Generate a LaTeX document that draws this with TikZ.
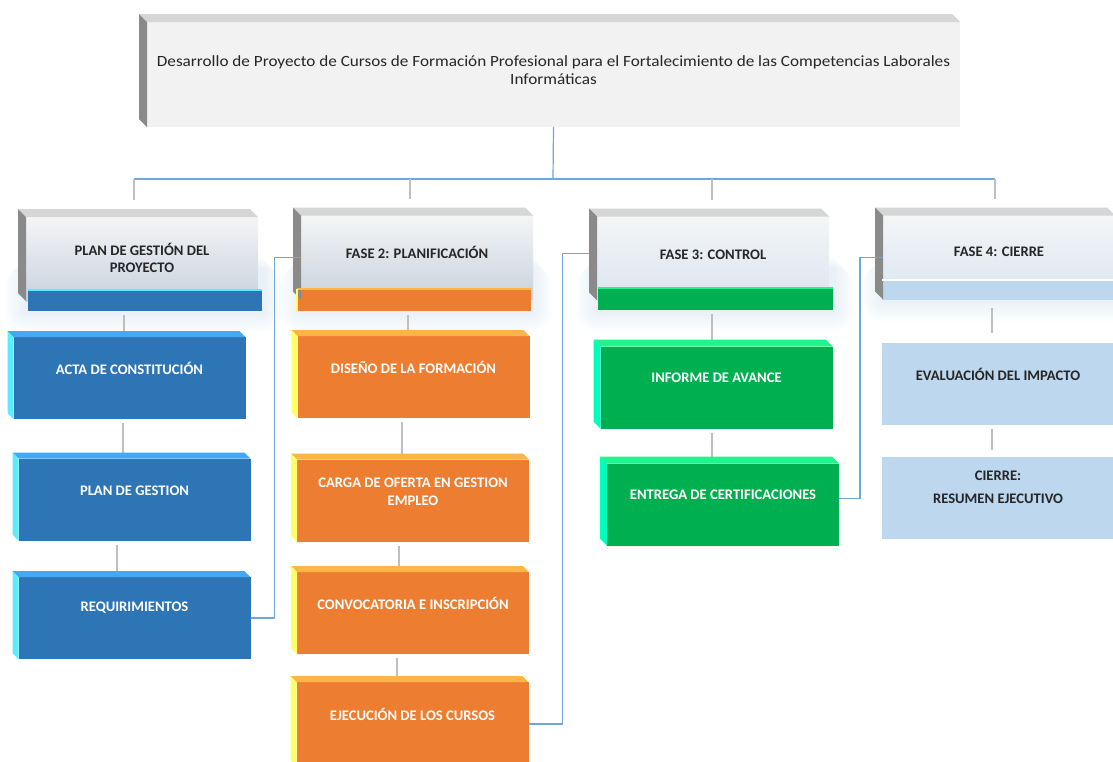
\documentclass[tikz,border=0pt]{standalone}
\usepackage{fontspec}
\setmainfont{Carlito}
\newfontfamily\titlefont{Carlito}[FakeStretch=1.1]
\usetikzlibrary{backgrounds}
\definecolor{azul}{HTML}{2E75B6}
\definecolor{azultope}{HTML}{45A8F5}
\definecolor{azullado}{HTML}{5CECFF}
\definecolor{naranja}{HTML}{ED7D31}
\definecolor{naranjatope}{HTML}{FDB547}
\definecolor{naranjalado}{HTML}{FFFF66}
\definecolor{verde}{HTML}{00B050}
\definecolor{verdetope}{HTML}{1FF58A}
\definecolor{verdelado}{HTML}{00FFB8}
\definecolor{celeste}{HTML}{BDD7EE}
\definecolor{grisclaro}{HTML}{F2F2F2}
\definecolor{gristope}{HTML}{D6D6D6}
\definecolor{grislado}{HTML}{8A8A8A}
\definecolor{fasebase}{HTML}{C8D2DE}
\definecolor{fasebase2}{HTML}{DAE5F1}
\definecolor{enlace}{HTML}{6FA6DC}
\definecolor{tallo}{HTML}{BFBFBF}
\definecolor{tinta}{HTML}{262626}
\definecolor{halo}{HTML}{9DC3E6}
\tikzset{
  hoja/.style={fill=#1,inner sep=0pt,outer sep=0pt,minimum width=232,minimum height=82},
  hoja/.default=azul,
  fase/.style={inner sep=0pt,outer sep=0pt,minimum width=232,minimum height=84,
    top color=white!96!black,bottom color=#1},
  fase/.default=fasebase,
  barra/.style={fill=#1,inner sep=0pt,outer sep=0pt,minimum width=234,minimum height=21},
  lbl/.style={font=\bfseries\fontsize{14.6}{17.5}\selectfont,text=white,align=center,yshift=#1},
  lbl/.default=10pt,
  stem/.style={draw=tallo,line width=1.2pt,shorten <=4pt,shorten >=6pt},
  link/.style={draw=enlace,line width=1.4pt},
}

\begin{document}
\begin{tikzpicture}[x=1pt,y=-1pt]
  \useasboundingbox (0,0) rectangle (1113,761);
  \clip (0,0) rectangle (1113,761);
  % title and phases
  \node[hoja=grisclaro,minimum width=813,minimum height=105,
    label={[lbl=4.5pt,font=\titlefont\fontsize{15.6}{18}\selectfont,text=tinta]center:{Desarrollo de Proyecto de Cursos de Formación Profesional para el Fortalecimiento de las Competencias Laborales\\Informáticas}}]
    (titulo) at (553.5,74.5) {};
  \node[fase,label={[lbl=1pt,text=tinta]center:{PLAN DE GESTIÓN DEL\\PROYECTO}}] (p1) at (142,259) {};
  \node[fase,label={[lbl=5.5pt,text=tinta]center:{FASE 2: PLANIFICACIÓN}}] (p2) at (417,257.5) {};
  \node[fase=fasebase2,label={[lbl=3.5pt,text=tinta]center:{FASE 3: CONTROL}}] (p3) at (713,258.5) {};
  \node[fase=fasebase2,label={[lbl=5.5pt,text=tinta]center:{FASE 4: CIERRE}}] (p4) at (999,257.5) {};
  \node[barra=azul] (b1) at (145,300.5) {};
  \node[barra=naranja,minimum height=22] (b2) at (414,300) {};
  \node[barra=verde,minimum width=235,minimum height=22] (b3) at (715.5,299) {};
  \node[barra=celeste,minimum height=20] (b4) at (999,290) {};
  % tasks
  \node[hoja,label={[lbl]center:{ACTA DE CONSTITUCIÓN}}] (acta) at (129.5,378) {};
  \node[hoja,label={[lbl=8.5pt]center:{PLAN DE GESTION}}] (plan) at (134.5,499.5) {};
  \node[hoja,label={[lbl]center:{REQUIRIMIENTOS}}] (req) at (134.5,618) {};
  \node[hoja=naranja,label={[lbl]center:{DISEÑO DE LA FORMACIÓN}}] (diseno) at (413.5,377) {};
  \node[hoja=naranja,label={[lbl=8.5pt]center:{CARGA DE OFERTA EN GESTION\\EMPLEO}}] (carga) at (413,500.5) {};
  \node[hoja=naranja,label={[lbl]center:{CONVOCATORIA E INSCRIPCIÓN}}] (convoc) at (413,613) {};
  \node[hoja=naranja,minimum height=84,label={[lbl]center:{EJECUCIÓN DE LOS CURSOS}}] (ejec) at (412.5,724) {};
  \node[hoja=verde,label={[lbl]center:{INFORME DE AVANCE}}] (informe) at (716.5,387.5) {};
  \node[hoja=verde,label={[lbl=9.5pt]center:{ENTREGA DE CERTIFICACIONES}}] (entrega) at (723,504.5) {};
  \node[hoja=celeste,label={[lbl,text=tinta]center:{EVALUACIÓN DEL IMPACTO}}] (eval) at (998,384) {};
  \node[hoja=celeste,label={[lbl,text=tinta]center:{CIERRE:\\[5pt]RESUMEN EJECUTIVO}}] (cierre) at (998,497.5) {};
  % 3d edges
  \foreach \n/\d/\t/\s in {titulo/8/gristope/grislado,p1/8/gristope/grislado,p2/8/gristope/grislado,
      p3/8/gristope/grislado,p4/8/gristope/grislado,
      acta/6/azultope/azullado,plan/6/azultope/azullado,req/6/azultope/azullado,
      diseno/6/naranjatope/naranjalado,carga/6/naranjatope/naranjalado,
      convoc/6/naranjatope/naranjalado,ejec/6/naranjatope/naranjalado,
      informe/7/verdetope/verdelado,entrega/7/verdetope/verdelado}
  {
    \fill[\t] (\n.north west) -- ++(-\d,-\d) -- ([shift={(-\d,-\d)}]\n.north east) -- (\n.north east) -- cycle;
    \fill[\s] (\n.north west) -- ++(-\d,-\d) -- ([shift={(-\d,-\d)}]\n.south west) -- (\n.south west) -- cycle;
  }
  \foreach \b/\c in {b1/azullado,b2/naranjatope,b3/verdetope,b4/white}
    \draw[\c,line width=2pt] (\b.north west) -- (\b.north east);
  \draw[naranjalado,line width=2pt] (b2.north west) -- (b2.south west);
  % background: glow and stems
  \begin{scope}[on background layer]
    \fill[white] (0,0) rectangle (1113,761);
    \foreach \f/\b in {p1/b1,p2/b2,p3/b3,p4/b4}
      \foreach \k in {3,6,...,21}
        \fill[halo,opacity=0.03,rounded corners=\k] ([shift={(-\k,\k/2+40)}]\f.north west) rectangle ([shift={(\k,\k)}]\b.south east);
    \coordinate (hub) at (553,179);
    \draw[link,line width=1.2pt] (titulo.south) -- (hub);
    \draw[link,line width=1.2pt] (hub -| 134,0) -- (hub -| 995,0);
    \foreach \p/\x in {p1/134,p2/410,p3/712,p4/995}
      \draw[stem,shorten <=0pt,shorten >=17pt] (hub -| \x,0) -- (\p.north -| \x,0);
    \draw[stem] (b1.south -| 124,0) -- (acta.north -| 124,0);
    \draw[stem] (acta.south -| 123,0) -- (plan.north -| 123,0);
    \draw[stem] (plan.south -| 117,0) -- (req.north -| 117,0);
    \draw[stem] (b2.south -| 408,0) -- (diseno.north -| 408,0);
    \draw[stem] (diseno.south -| 402,0) -- (carga.north -| 402,0);
    \draw[stem] (carga.south -| 399,0) -- (convoc.north -| 399,0);
    \draw[stem] (convoc.south -| 397,0) -- (ejec.north -| 397,0);
    \draw[stem] (b3.south -| 712,0) -- (informe.north -| 712,0);
    \draw[stem] (informe.south -| 712,0) -- (entrega.north -| 712,0);
    \draw[stem,shorten <=8pt,shorten >=10pt] (b4.south -| 992,0) -- (eval.north -| 992,0);
    \draw[stem,shorten >=7pt] (eval.south -| 992,0) -- (cierre.north -| 992,0);
  \end{scope}
  % cross links
  \draw[link] (req.east) -- ++(24,0) |- (p2.west);
  \draw[link] (ejec.east) -- ++(34,0) |- ([xshift=-8pt,yshift=5pt]p3.west);
  \draw[link] ([yshift=6pt]entrega.east) -- ++(21,0) |- (p4.west);
\end{tikzpicture}
\end{document}
